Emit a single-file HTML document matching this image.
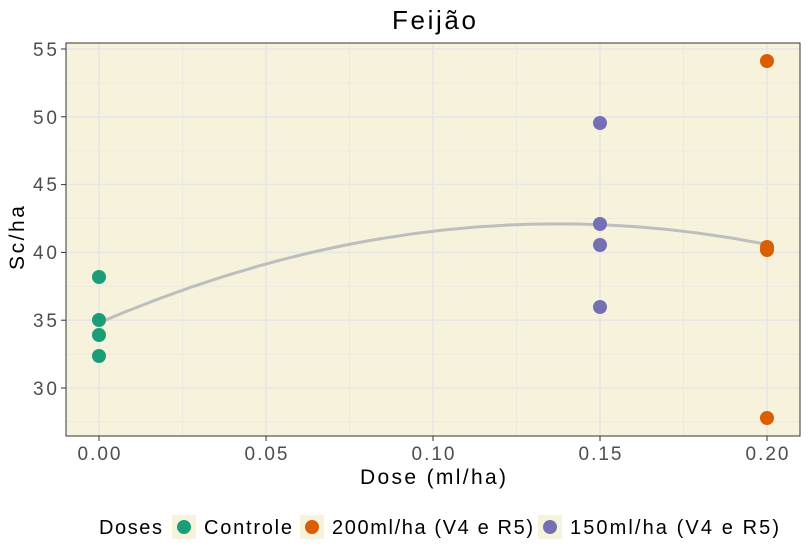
<!DOCTYPE html>
<html><head><meta charset="utf-8"><style>
body{margin:0;background:#fff;}
svg text{font-family:"Liberation Sans",sans-serif;}
</style></head><body>
<svg width="809" height="555" xmlns="http://www.w3.org/2000/svg">
<rect x="66" y="43" width="734" height="393" fill="#f7f2dc"/>
<g stroke="#ece9df" stroke-width="1">
<line x1="66" x2="800" y1="354.1" y2="354.1"/><line x1="66" x2="800" y1="286.3" y2="286.3"/><line x1="66" x2="800" y1="218.5" y2="218.5"/><line x1="66" x2="800" y1="150.7" y2="150.7"/><line x1="66" x2="800" y1="82.9" y2="82.9"/><line x1="66" x2="800" y1="421.9" y2="421.9"/>
<line y1="43" y2="436" x1="182.5" x2="182.5"/><line y1="43" y2="436" x1="349.5" x2="349.5"/><line y1="43" y2="436" x1="516.5" x2="516.5"/><line y1="43" y2="436" x1="683.5" x2="683.5"/>
</g>
<g stroke="#e8e6e6" stroke-width="1.6">
<line x1="66" x2="800" y1="388" y2="388"/><line x1="66" x2="800" y1="320.2" y2="320.2"/><line x1="66" x2="800" y1="252.4" y2="252.4"/><line x1="66" x2="800" y1="184.6" y2="184.6"/><line x1="66" x2="800" y1="116.8" y2="116.8"/><line x1="66" x2="800" y1="49" y2="49"/>
<line y1="43" y2="436" x1="99" x2="99"/><line y1="43" y2="436" x1="266" x2="266"/><line y1="43" y2="436" x1="433" x2="433"/><line y1="43" y2="436" x1="600" x2="600"/><line y1="43" y2="436" x1="767" x2="767"/>
</g>
<rect x="66" y="43" width="734" height="393" fill="none" stroke="#333" stroke-width="1"/>
<path fill="none" stroke="#bebebe" stroke-width="3" d="M99,322.9 Q433,178.8 767,244.4"/>
<g fill="#1b9e77"><circle cx="99" cy="277" r="7"/><circle cx="99" cy="320" r="7"/><circle cx="99" cy="335" r="7"/><circle cx="99" cy="356" r="7"/></g>
<g fill="#7570b3"><circle cx="600" cy="123" r="7"/><circle cx="600" cy="224" r="7"/><circle cx="600" cy="245" r="7"/><circle cx="600" cy="307" r="7"/></g>
<g fill="#d95f02"><circle cx="767" cy="61" r="7"/><circle cx="767" cy="247" r="7"/><circle cx="767" cy="250" r="7"/><circle cx="767" cy="418" r="7"/></g>
<g stroke="#333" stroke-width="1">
<line x1="61" x2="66" y1="388" y2="388"/><line x1="61" x2="66" y1="320.2" y2="320.2"/><line x1="61" x2="66" y1="252.4" y2="252.4"/><line x1="61" x2="66" y1="184.6" y2="184.6"/><line x1="61" x2="66" y1="116.8" y2="116.8"/><line x1="61" x2="66" y1="49" y2="49"/>
<line y1="436" y2="441" x1="99" x2="99"/><line y1="436" y2="441" x1="266" x2="266"/><line y1="436" y2="441" x1="433" x2="433"/><line y1="436" y2="441" x1="600" x2="600"/><line y1="436" y2="441" x1="767" x2="767"/>
</g>
<g fill="#4d4d4d" font-size="19" text-anchor="end">
<text x="57" y="395" textLength="24">30</text><text x="57" y="327" textLength="24">35</text><text x="57" y="259" textLength="24">40</text><text x="57" y="191" textLength="24">45</text><text x="57" y="124" textLength="24">50</text><text x="57" y="56" textLength="24">55</text>
</g>
<g fill="#4d4d4d" font-size="19" text-anchor="middle">
<text x="99" y="460" textLength="43">0.00</text><text x="266" y="460" textLength="43">0.05</text><text x="433" y="460" textLength="43">0.10</text><text x="600" y="460" textLength="43">0.15</text><text x="767" y="460" textLength="43">0.20</text>
</g>
<text x="433" y="484" font-size="21" text-anchor="middle" fill="#000" textLength="146">Dose (ml/ha)</text>
<text transform="translate(24,238) rotate(-90)" font-size="21" text-anchor="middle" fill="#000" textLength="64">Sc/ha</text>
<text x="434" y="29" font-size="26" text-anchor="middle" fill="#000" textLength="84">Feijão</text>
<g font-size="20" fill="#000">
<text x="99" y="534" textLength="63">Doses</text>
<rect x="172" y="515" width="24" height="24" fill="#f7f2dc"/><circle cx="184" cy="527" r="7" fill="#1b9e77"/><text x="204" y="534" textLength="88">Controle</text>
<rect x="300" y="515" width="24" height="24" fill="#f7f2dc"/><circle cx="312" cy="527" r="7" fill="#d95f02"/><text x="332" y="534" textLength="201">200ml/ha (V4 e R5)</text>
<rect x="538" y="515" width="24" height="24" fill="#f7f2dc"/><circle cx="550" cy="527" r="7" fill="#7570b3"/><text x="570" y="534" textLength="209">150ml/ha (V4 e R5)</text>
</g>
</svg>
</body></html>
